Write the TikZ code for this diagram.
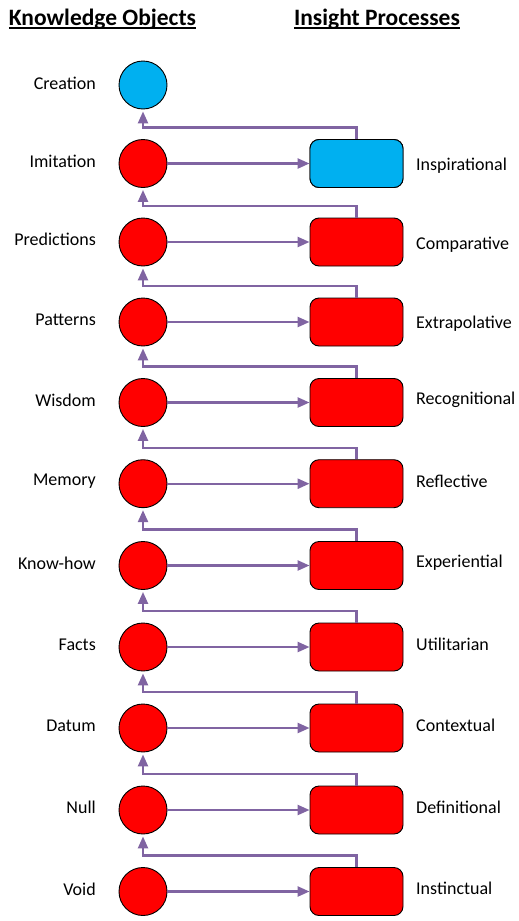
\documentclass[tikz,border=0pt]{standalone}
\usepackage{fontspec}
\setmainfont{Carlito}
\usetikzlibrary{arrows.meta}
\definecolor{kred}{HTML}{FF0000}
\definecolor{kblue}{HTML}{00B0F0}
\definecolor{kpurple}{HTML}{8064A2}
\newcommand\headul[1]{\setbox0\hbox{#1}\rlap{\rule[-4pt]{\wd0}{1.8pt}}\box0}
\tikzset{
  obj/.style={circle, draw=black, line width=0.9pt, fill=kred, minimum size=48pt, inner sep=0pt},
  proc/.style={rectangle, rounded corners=9pt, draw=black, line width=0.9pt, fill=kred, minimum width=93pt, minimum height=48pt, inner sep=0pt},
  conn/.style={draw=kpurple, line width=2.4pt, -{Triangle[length=12pt,width=10pt]}},
  lbl/.style={font=\fontsize{18}{21}\selectfont, inner sep=0pt},
  head/.style={font=\fontsize{23.5}{27}\selectfont\bfseries, inner sep=0pt}
}
\begin{document}
\begin{tikzpicture}[x=1pt,y=-1pt]
\useasboundingbox (0,0) rectangle (519,921);
\node[head] (h1) at (102.5,19) {\headul{Knowledge Objects}};
\node[head] (h2) at (377,19) {\headul{Insight Processes}};
% knowledge objects
\node[obj, fill=kblue] (c0) at (143,85) {};
\node[lbl, anchor=east] (l0) at (96,83) {Creation};
\foreach \i/\y/\a/\b/\o in {1/163.5/Imitation/Inspirational/2.5,2/242/Predictions/Comparative/2.5,3/322/Patterns/Extrapolative/1.5,4/402.5/Wisdom/Recognitional/-2.5,5/483.7/Memory/Reflective/-2.5,6/565.5/Know-how/Experiential/-2.5,7/647/Facts/Utilitarian/-2.5,8/728/Datum/Contextual/-2.5,9/810/Null/Definitional/-3,10/891.5/Void/Instinctual/-3}{
  \node[obj] (c\i) at (143,\y) {};
  \node[lbl, anchor=east] (l\i) at (96,\y-2.5) {\a};
  \node[proc] (r\i) at (356.5,\y) {};
  \node[lbl, anchor=west] (p\i) at (416,\y+\o) {\b};
}
\node[proc, fill=kblue] at (r1) {};
\foreach \i [evaluate=\i as \j using int(\i-1)] in {1,...,10}{
  \draw[conn] (c\i) -- (r\i);
  \draw[conn] (r\i.north) -- ++(0,-11.5) -| ([yshift=-2pt]c\j.south);
}
\end{tikzpicture}
\end{document}
